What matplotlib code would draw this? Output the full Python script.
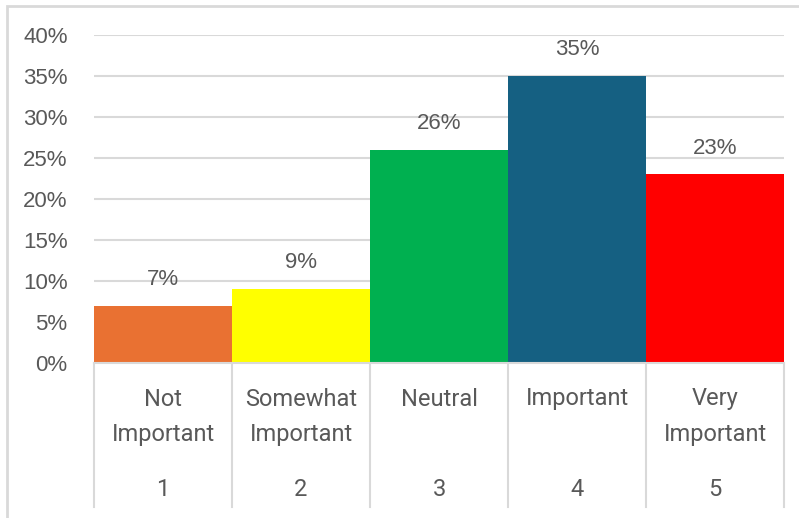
"""
Importance rating distribution, Excel-style column chart with touching bars.
"""

import matplotlib
matplotlib.use("Agg")
import matplotlib.pyplot as plt
import matplotlib.transforms as mtransforms
from matplotlib.patches import Rectangle

ratings = [1, 2, 3, 4, 5]
labels = [["Not", "Important"], ["Somewhat", "Important"], ["Neutral"],
          ["Important"], ["Very", "Important"]]
shares = [7, 9, 26, 35, 23]
colors = ["#E97132", "#FFFF00", "#00B050", "#156082", "#FF0000"]
yticks = [0, 5, 10, 15, 20, 25, 30, 35, 40]

TEXT = "#595959"
GRID = "#D9D9D9"
NUM_FONT = "Liberation Sans"
CAT_FONT = "Roboto"

fig = plt.figure(figsize=(7.99, 5.18), dpi=100)
W, H = 799, 518
ax = fig.add_axes([94 / W, 1 - 363 / H, (784 - 94) / W, (363 - 35) / H])

ax.bar(ratings, shares, width=1.0, color=colors, linewidth=0, zorder=3)
ax.set_xlim(0.5, 5.5)
ax.set_ylim(0, 40)
ax.set_yticks(yticks)
ax.set_yticklabels([f"{t}%" for t in yticks], fontsize=16, color=TEXT,
                   family=NUM_FONT)
ax.tick_params(axis="y", length=0, pad=19)
ax.set_xticks([])
ax.grid(axis="y", color=GRID, linewidth=1.5, zorder=0)
for s in ["top", "right", "left"]:
    ax.spines[s].set_visible(False)
ax.spines["bottom"].set_color(GRID)
ax.spines["bottom"].set_linewidth(1.5)
ax.spines["bottom"].set_zorder(4)

# value labels above each column
for x, v in zip(ratings, shares):
    ax.annotate(f"{v}%", (x, v), xytext=(0, 19), textcoords="offset points",
                ha="center", va="center", fontsize=16, color=TEXT,
                family=NUM_FONT)

# category table below the axis: dividers, names and rating numbers
trans = mtransforms.blended_transform_factory(ax.transData, ax.transAxes)
axh = 363 - 35
y_bottom = -(507 - 363) / axh
for x in [0.5, 1.5, 2.5, 3.5, 4.5, 5.5]:
    ax.plot([x, x], [0, y_bottom], transform=trans, color=GRID, lw=1.5,
            clip_on=False)
for x, lines in zip(ratings, labels):
    for i, line in enumerate(lines):
        yp = -(399 + 36 * i - 363) / axh
        ax.text(x, yp, line, transform=trans, ha="center", va="center",
                fontsize=17, color=TEXT, family=CAT_FONT)
    ax.text(x, -(489 - 363) / axh, str(x), transform=trans, ha="center",
            va="center", fontsize=17, color=TEXT, family=CAT_FONT)

# chart frame
fig.patches.append(Rectangle((7 / W, -0.01), 1.0, 1 - 6 / H + 0.01,
                             transform=fig.transFigure, fill=False,
                             edgecolor=GRID, linewidth=2))

fig.savefig("out.png", dpi=100)
